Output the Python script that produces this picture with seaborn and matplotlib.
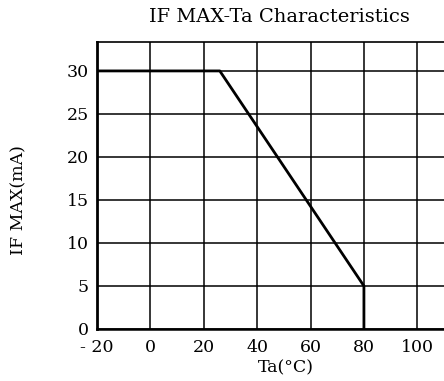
import matplotlib
matplotlib.use("Agg")
import matplotlib.pyplot as plt
import seaborn as sns
import pandas as pd

# data
ta = [-20, 26, 80, 80]
if_max = [30, 30, 5, 0]
x_ticks = [-20, 0, 20, 40, 60, 80, 100]
x_labels = ["- 20", "0", "20", "40", "60", "80", "100"]
y_ticks = [0, 5, 10, 15, 20, 25, 30]

sns.set_style("white")
plt.rcParams['font.family'] = ['DejaVu Serif']
plt.rcParams['text.color'] = 'black'

fig = plt.figure(figsize=(4.44, 3.81), dpi=100)
ax = fig.add_axes([0.2185, 0.1365, 0.7815, 0.7541])

df = pd.DataFrame({"Ta": ta, "IF": if_max})
ax.set_xlim(-20, 110)
ax.set_ylim(0, 33.4)
ax.set_xticks(x_ticks)
ax.set_yticks(y_ticks)
ax.grid(True, color="black", linewidth=1.1)
ax.set_axisbelow(True)
sns.lineplot(data=df, x="Ta", y="IF", sort=False, estimator=None, color="black",
             linewidth=2.0, ax=ax, zorder=5)

for s in ["left", "bottom", "top"]:
    ax.spines[s].set_color("black")
    ax.spines[s].set_linewidth(1.2)
ax.spines["left"].set_linewidth(2.0)
ax.spines["bottom"].set_linewidth(1.8)
ax.spines["right"].set_visible(False)

ax.tick_params(axis="both", length=0, labelsize=12.5, colors="black")
ax.tick_params(axis="x", pad=7)
ax.tick_params(axis="y", pad=6)
ax.set_xticklabels(x_labels)

ax.set_xlabel("Ta(°C)", fontsize=12.5, color="black")
ax.set_ylabel("IF MAX(mA)", fontsize=12.5, color="black")
ax.xaxis.set_label_coords(0.545, -0.105)
ax.yaxis.set_label_coords(-0.202, 0.45)
fig.text(0.63, 0.955, "IF MAX-Ta Characteristics", ha="center", va="center",
         fontsize=14, color="black")

fig.savefig("out.png", dpi=100)
